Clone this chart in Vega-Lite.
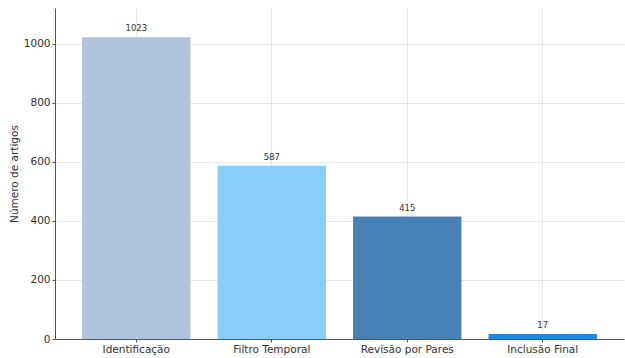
{
  "$schema": "https://vega.github.io/schema/vega-lite/v6.json",
  "width": 569,
  "height": 331,
  "autosize": {"type": "none"},
  "padding": {"left": 55, "top": 8, "right": 1, "bottom": 19},
  "background": "white",
  "config": {
    "view": {"stroke": null},
    "font": "DejaVu Sans"
  },
  "data": {
    "values": [
      {"etapa": "Identificação", "n": 1023, "cor": "#B0C4DE"},
      {"etapa": "Filtro Temporal", "n": 587, "cor": "#87CEFA"},
      {"etapa": "Revisão por Pares", "n": 415, "cor": "#4682B4"},
      {"etapa": "Inclusão Final", "n": 17, "cor": "#1E88E5"}
    ]
  },
  "encoding": {
    "x": {
      "field": "etapa",
      "type": "nominal",
      "sort": null,
      "scale": {"paddingInner": 0.2, "paddingOuter": 0.2},
      "axis": {
        "title": null,
        "labelAngle": 0,
        "labelFontSize": 10.5,
        "labelColor": "#333333",
        "labelPadding": 2,
        "tickSize": 3,
        "tickColor": "#555555",
        "domainColor": "#555555",
        "grid": true,
        "gridColor": "#e6e6e6",
        "bandPosition": 0.5
      }
    },
    "y": {
      "field": "n",
      "type": "quantitative",
      "scale": {"domain": [0, 1122], "nice": false},
      "axis": {
        "title": "Número de artigos",
        "titleFontSize": 10.5,
        "titleFontWeight": "normal",
        "titleColor": "#333333",
        "titlePadding": 4,
        "values": [0, 200, 400, 600, 800, 1000],
        "format": "d",
        "labelFontSize": 10.5,
        "labelColor": "#333333",
        "tickSize": 3,
        "tickColor": "#555555",
        "domainColor": "#555555",
        "grid": true,
        "gridColor": "#e6e6e6"
      }
    }
  },
  "layer": [
    {
      "mark": {"type": "bar"},
      "encoding": {
        "color": {"field": "cor", "type": "nominal", "scale": null}
      }
    },
    {
      "mark": {"type": "text", "baseline": "bottom", "dy": -4, "fontSize": 8.5, "color": "#333333"},
      "encoding": {
        "text": {"field": "n", "type": "quantitative"}
      }
    }
  ]
}
